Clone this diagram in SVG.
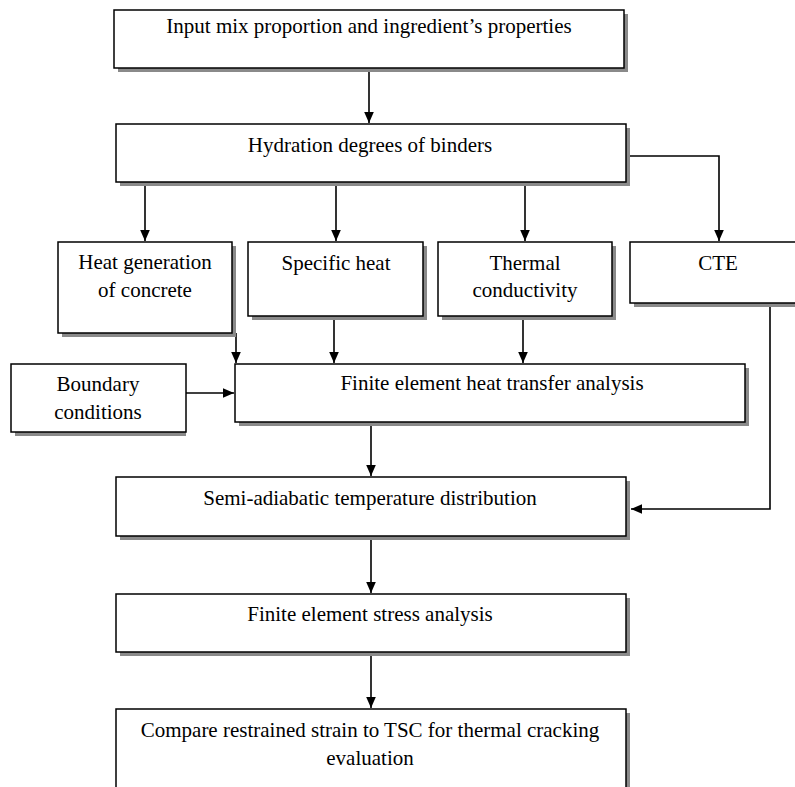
<svg xmlns="http://www.w3.org/2000/svg" width="795" height="787" viewBox="0 0 795 787">
<style>
.box{fill:#fff;stroke:#000;stroke-width:1.5}
.sh{fill:#8a8a8a}
.t{font-family:"Liberation Serif","Times New Roman",serif;font-size:21px;fill:#000;text-anchor:middle}
.c{fill:none;stroke:#000;stroke-width:1.6}
</style>
<defs>
<marker id="ah" markerUnits="userSpaceOnUse" markerWidth="12" markerHeight="12" viewBox="0 0 12 12" refX="11" refY="6" orient="auto">
<path d="M0,1.2 L11,6 L0,10.8 Z" fill="#000"/>
</marker>
</defs>
<rect width="795" height="787" fill="#fff"/>
<g id="connectors">
<path class="c" d="M369,68 V123" marker-end="url(#ah)"/>
<path class="c" d="M145,182 V241" marker-end="url(#ah)"/>
<path class="c" d="M336,182 V241" marker-end="url(#ah)"/>
<path class="c" d="M525,182 V241" marker-end="url(#ah)"/>
<path class="c" d="M626,156 H719 V241" marker-end="url(#ah)"/>
<path class="c" d="M236,333 V363" marker-end="url(#ah)"/>
<path class="c" d="M334,316 V363" marker-end="url(#ah)"/>
<path class="c" d="M523,316 V363" marker-end="url(#ah)"/>
<path class="c" d="M186,393 H234" marker-end="url(#ah)"/>
<path class="c" d="M371,422 V476" marker-end="url(#ah)"/>
<path class="c" d="M770,303 V509 H631" marker-end="url(#ah)"/>
<path class="c" d="M371,536 V593" marker-end="url(#ah)"/>
<path class="c" d="M371,652 V708" marker-end="url(#ah)"/>
</g>
<g id="n1"><rect class="sh" x="118" y="14" width="510" height="58"/><rect class="box" x="114" y="10" width="510" height="58"/><text class="t" x="369" y="33">Input mix proportion and ingredient’s properties</text></g>
<g id="n2"><rect class="sh" x="120" y="128" width="510" height="58"/><rect class="box" x="116" y="124" width="510" height="58"/><text class="t" x="370" y="152">Hydration degrees of binders</text></g>
<g id="n3"><rect class="sh" x="62" y="246" width="174" height="91"/><rect class="box" x="58" y="242" width="174" height="91"/><text class="t" x="145" y="269">Heat generation</text><text class="t" x="145" y="297">of concrete</text></g>
<g id="n4"><rect class="sh" x="252" y="246" width="175" height="74"/><rect class="box" x="248" y="242" width="175" height="74"/><text class="t" x="336" y="270">Specific heat</text></g>
<g id="n5"><rect class="sh" x="442" y="246" width="174" height="74"/><rect class="box" x="438" y="242" width="174" height="74"/><text class="t" x="525" y="270">Thermal</text><text class="t" x="525" y="297">conductivity</text></g>
<g id="n6"><rect class="sh" x="634" y="246" width="176" height="61"/><rect class="box" x="630" y="242" width="176" height="61"/><text class="t" x="718" y="270">CTE</text></g>
<g id="n7"><rect class="sh" x="15" y="368" width="171" height="68"/><rect class="box" x="11" y="364" width="175" height="68"/><text class="t" x="98" y="391">Boundary</text><text class="t" x="98" y="419">conditions</text></g>
<g id="n8"><rect class="sh" x="239" y="368" width="510" height="58"/><rect class="box" x="235" y="364" width="510" height="58"/><text class="t" x="492" y="390">Finite element heat transfer analysis</text></g>
<g id="n9"><rect class="sh" x="120" y="481" width="510" height="59"/><rect class="box" x="116" y="477" width="510" height="59"/><text class="t" x="370" y="505">Semi-adiabatic temperature distribution</text></g>
<g id="n10"><rect class="sh" x="120" y="598" width="510" height="58"/><rect class="box" x="116" y="594" width="510" height="58"/><text class="t" x="370" y="621">Finite element stress analysis</text></g>
<g id="n11"><rect class="sh" x="120" y="713" width="510" height="90"/><rect class="box" x="116" y="709" width="510" height="90"/><text class="t" x="370" y="737">Compare restrained strain to TSC for thermal cracking</text><text class="t" x="370" y="765">evaluation</text></g>
</svg>
